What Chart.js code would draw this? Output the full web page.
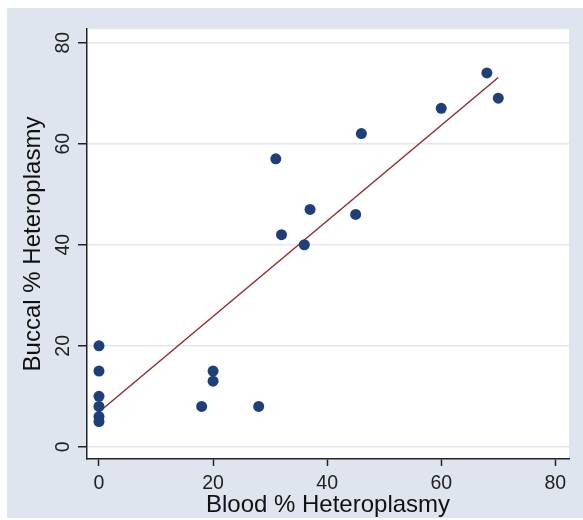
<!DOCTYPE html>
<html>
<head>
<meta charset="utf-8">
<script src="https://cdn.jsdelivr.net/npm/chart.js@4.4.1/dist/chart.umd.min.js"></script>
<style>
  html, body { margin: 0; padding: 0; background: #ffffff; }
  #frame {
    position: absolute;
    left: 7px;
    top: 8px;
    width: 576px;
    height: 510px;
    background: #dfe5ef;
  }
</style>
</head>
<body>
<div id="frame">
  <canvas id="scatterChart" width="576" height="510"></canvas>
</div>
<script>
// Data
const bloodValues = [0, 0, 0, 0, 0, 0, 18, 20, 20, 28, 31, 32, 36, 37, 45, 46, 60, 68, 70];
const buccalValues = [20, 15, 10, 8, 6, 5, 8, 15, 13, 8, 57, 42, 40, 47, 46, 62, 67, 74, 69];
const fitX = [0, 70];
const fitY = [6.9, 73.1];
const xTicks = [0, 20, 40, 60, 80];
const yTicks = [0, 20, 40, 60, 80];

const fontFamily = "'Liberation Sans', Arial, Helvetica, sans-serif";

// paint the plot region white on top of the frame colour
const plotBackground = {
  id: "plotBackground",
  beforeDraw(chart) {
    const { ctx, chartArea } = chart;
    ctx.save();
    ctx.fillStyle = "#ffffff";
    ctx.fillRect(chartArea.left, chartArea.top, chartArea.right - chartArea.left, chartArea.bottom - chartArea.top);
    ctx.restore();
  }
};

const scatterPoints = bloodValues.map((x, i) => ({ x: x, y: buccalValues[i] }));
const fitPoints = fitX.map((x, i) => ({ x: x, y: fitY[i] }));

new Chart(document.getElementById("scatterChart"), {
  type: "scatter",
  data: {
    datasets: [
      {
        type: "line",
        data: fitPoints,
        borderColor: "#8e2f35",
        borderWidth: 1.5,
        pointRadius: 0,
        fill: false,
        order: 2
      },
      {
        data: scatterPoints,
        backgroundColor: "#1f3f78",
        borderWidth: 0,
        pointRadius: 5.5,
        order: 1
      }
    ]
  },
  options: {
    responsive: false,
    animation: false,
    layout: { padding: { left: 0, top: 21, right: 14, bottom: 0 } },
    plugins: {
      legend: { display: false },
      tooltip: { enabled: false }
    },
    scales: {
      x: {
        type: "linear",
        min: -2.1,
        max: 82.4,
        afterBuildTicks: (scale) => { scale.ticks = xTicks.map(v => ({ value: v })); },
        afterFit: (scale) => { scale.height = 59; },
        border: { color: "#222222", width: 1.5 },
        grid: { drawOnChartArea: false, tickColor: "#222222", tickLength: 7, tickWidth: 1.5 },
        ticks: {
          includeBounds: false,
          color: "#222222",
          padding: 6,
          font: { family: fontFamily, size: 19.5 }
        },
        title: {
          display: true,
          text: "Blood % Heteroplasmy",
          color: "#111111",
          padding: { top: 0, bottom: 1 },
          font: { family: fontFamily, size: 24, lineHeight: 1 }
        }
      },
      y: {
        type: "linear",
        min: -2.4,
        max: 82.7,
        afterBuildTicks: (scale) => { scale.ticks = yTicks.map(v => ({ value: v })); },
        afterFit: (scale) => { scale.width = 80; },
        border: { color: "#222222", width: 1.5 },
        grid: { color: "#e4e6ef", lineWidth: 1.5, tickColor: "#222222", tickLength: 9, tickWidth: 1.5 },
        ticks: {
          includeBounds: false,
          color: "#222222",
          padding: 4,
          minRotation: 90,
          maxRotation: 90,
          crossAlign: "center",
          font: { family: fontFamily, size: 19.5 }
        },
        title: {
          display: true,
          text: "Buccal % Heteroplasmy",
          color: "#111111",
          padding: { top: 14, bottom: 0 },
          font: { family: fontFamily, size: 24, lineHeight: 1 }
        }
      }
    }
  },
  plugins: [plotBackground]
});
</script>
</body>
</html>
